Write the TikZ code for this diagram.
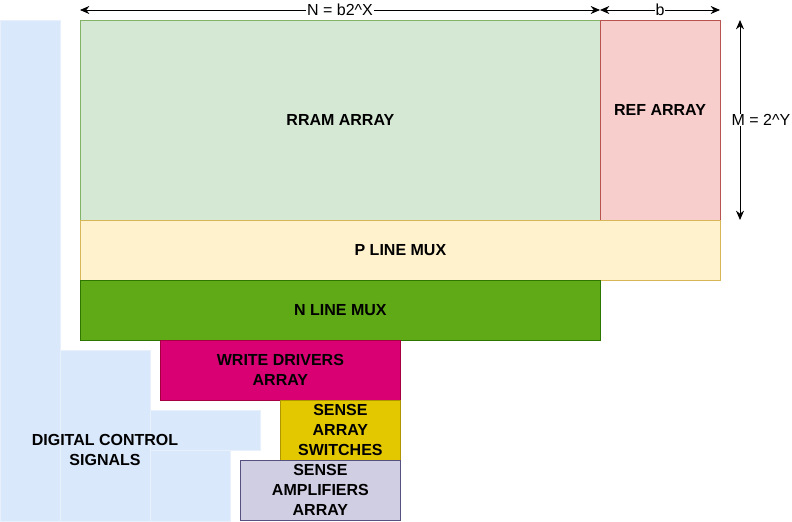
\documentclass[tikz,border=0pt]{standalone}
\usepackage{fontspec}
\setmainfont{Liberation Sans}
\usepackage{xcolor}
\usetikzlibrary{positioning,arrows.meta}
\definecolor{rramFill}{HTML}{D5E8D4}
\definecolor{rramLine}{HTML}{82B366}
\definecolor{refFill}{HTML}{F8CECC}
\definecolor{refLine}{HTML}{B85450}
\definecolor{pmuxFill}{HTML}{FFF2CC}
\definecolor{pmuxLine}{HTML}{D6B656}
\definecolor{nmuxFill}{HTML}{60A917}
\definecolor{nmuxLine}{HTML}{2D7600}
\definecolor{wdFill}{HTML}{D80073}
\definecolor{wdLine}{HTML}{A50040}
\definecolor{swFill}{HTML}{E3C800}
\definecolor{swLine}{HTML}{B09500}
\definecolor{saFill}{HTML}{D0CEE2}
\definecolor{saLine}{HTML}{56517E}
\definecolor{dcFill}{HTML}{DAE8FC}
\definecolor{dcLine}{HTML}{E8F0FC}
\tikzset{
  bold/.style={font=\bfseries\fontsize{12}{15}\selectfont},
  blk/.style={bold,draw,line width=0.6pt,align=center,inner sep=0pt,anchor=north west},
  dc/.style={fill=dcFill,draw=dcLine,line width=0.6pt},
  dim/.style={{Stealth[length=7pt,width=6pt]}-{Stealth[length=7pt,width=6pt]},line width=0.6pt},
  lbl/.style={fill=white,inner sep=0.5pt,font=\fontsize{12}{14}\selectfont},
}

\begin{document}
\begin{tikzpicture}[x=0.75pt,y=-0.75pt]
\useasboundingbox (0,0) rectangle (792,521);
% digital control signals
\draw[dc] (0,20) rectangle (60,521);
\draw[dc] (60,350) rectangle (150,521);
\draw[dc] (150,410) rectangle (260,450);
\draw[dc] (150,450) rectangle (230,521);
\node[bold,align=center] (dcs) at (105,450) {DIGITAL CONTROL\\SIGNALS};
% arrays
\node[blk,fill=rramFill,draw=rramLine,minimum width=520*0.75pt,minimum height=200*0.75pt] (rram) at (80,20) {RRAM ARRAY};
\node[blk,fill=refFill,draw=refLine,minimum width=120*0.75pt,minimum height=200*0.75pt] (ref) at (600,20) {};
\node[bold] (reft) at (660,110) {REF ARRAY};
\node[blk,fill=pmuxFill,draw=pmuxLine,minimum width=640*0.75pt,minimum height=60*0.75pt] (pmux) at (80,220) {P LINE MUX};
\node[blk,fill=nmuxFill,draw=nmuxLine,minimum width=520*0.75pt,minimum height=60*0.75pt] (nmux) at (80,280) {N LINE MUX};
\node[blk,fill=wdFill,draw=wdLine,minimum width=240*0.75pt,minimum height=60*0.75pt] (wd) at (160,340) {WRITE DRIVERS\\ARRAY};
\node[blk,fill=swFill,draw=swLine,minimum width=120*0.75pt,minimum height=60*0.75pt] (sw) at (280,400) {SENSE\\ARRAY\\SWITCHES};
\node[blk,fill=saFill,draw=saLine,minimum width=160*0.75pt,minimum height=60*0.75pt] (sa) at (240,460) {SENSE\\AMPLIFIERS\\ARRAY};
% dimensions
\coordinate (nL) at (80,10);
\coordinate (nR) at (600,10);
\coordinate (bR) at (720,10);
\coordinate (mT) at (740,20);
\coordinate (mB) at (740,220);
\draw[dim] (nL) -- (nR) node[lbl,pos=0.5] (nlbl) {N = b2\^{}X};
\draw[dim] (nR) -- (bR) node[lbl,pos=0.5] (blbl) {b};
\draw[dim] (mT) -- (mB);
\node[lbl] (mlbl) at (761,120) {M = 2\^{}Y};
\end{tikzpicture}
\end{document}
